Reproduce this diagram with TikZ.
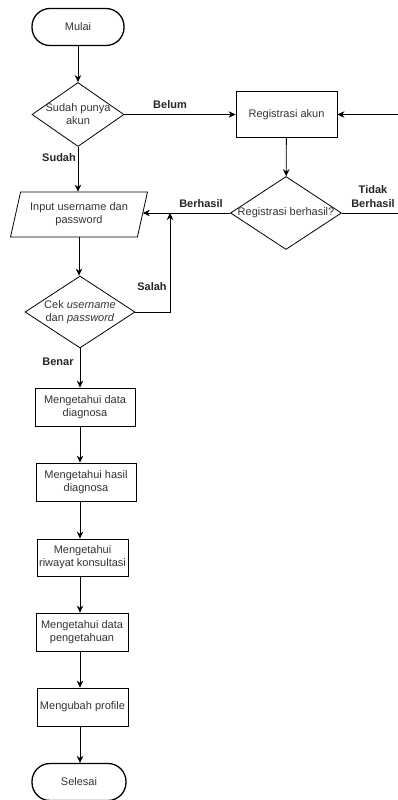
\documentclass[tikz,border=0pt]{standalone}
\usepackage{fontspec}
\setmainfont{Liberation Sans}
\usetikzlibrary{arrows.meta,shapes.geometric}

\begin{document}
\begin{tikzpicture}[x=1pt,y=-1pt,font=\fontsize{11}{13}\selectfont]
\tikzset{
  terminal/.style={draw,line width=1.3pt,rounded corners=18pt,minimum width=92pt,minimum height=37pt,inner sep=0pt,text=black!80},
  process/.style={draw,line width=0.8pt,minimum height=38pt,inner sep=0pt,align=center,text=black!80},
  decision/.style={diamond,draw,line width=0.8pt,inner sep=0pt},
  inout/.style={trapezium,trapezium left angle=70,trapezium right angle=110,trapezium stretches=true,draw,line width=0.8pt,minimum width=137pt,minimum height=45pt,inner sep=0pt,align=center,text=black!80},
  flow/.style={-{Stealth[length=7pt,width=6.5pt]},line width=0.8pt},
  flowline/.style={line width=0.8pt},
  branch/.style={font=\fontsize{11}{13}\selectfont\bfseries,text=black!85,align=center}
}
\useasboundingbox (0,0) rectangle (398,800);
\node[terminal] (n_mulai) at (78,27) {Mulai};
\node[decision,minimum width=92pt,minimum height=64pt,label={[align=center,text=black!80]center:Sudah punya\\akun}] (n_akun) at (78,114.5) {};
\node[process,minimum width=101pt,minimum height=46pt] (n_reg) at (286.5,114.5) {Registrasi akun};
\node[decision,minimum width=111pt,minimum height=73pt,label={[text=black!80]center:Registrasi berhasil?}] (n_berhasil) at (286,213) {};
\node[inout] (n_input) at (79,214.5) {Input username dan\\password};
\node[decision,minimum width=110pt,minimum height=72pt,label={[align=center,text=black!80]center:Cek \textit{username}\\dan \textit{password}}] (n_cek) at (80,312) {};
\node[process,minimum width=100pt] (n_data) at (85,407) {Mengetahui data\\diagnosa};
\node[process,minimum width=100pt] (n_hasil) at (86,482) {Mengetahui hasil\\diagnosa};
\node[process,minimum width=91pt,minimum height=37pt] (n_riwayat) at (82.5,557.5) {Mengetahui\\riwayat konsultasi};
\node[process,minimum width=92pt] (n_tahu) at (82,632) {Mengetahui data\\pengetahuan};
\node[process,minimum width=91pt] (n_profil) at (82.5,707) {Mengubah profile};
\node[terminal,minimum width=94pt] (n_selesai) at (79,782) {Selesai};
\coordinate (c_in) at (398,114.5);
\coordinate (c_out) at (398,213);
\coordinate (c_salah) at (170,213);
% labels
\node[branch] (l_belum) at (170,105) {Belum};
\node[branch] (l_sudah) at (59,158) {Sudah};
\node[branch] (l_berhasil) at (201,204) {Berhasil};
\node[branch,font=\fontsize{11}{14}\selectfont\bfseries] (l_tidak) at (373,197) {Tidak\\Berhasil};
\node[branch] (l_salah) at (152,287) {Salah};
\node[branch] (l_benar) at (58,362) {Benar};
% connectors
\draw[flow] (n_mulai) -- (n_akun);
\draw[flow] (n_akun.east) -- (n_reg.west);
\draw[flow] (n_akun.south) -- (n_akun.south |- n_input.north);
\draw[flow] (c_in) -- (n_reg.east);
\draw[flow] (n_reg) -- (n_berhasil);
\draw[flow] (n_berhasil.west) -- (n_input.east |- n_berhasil.west);
\draw[flowline] (n_berhasil.east) -- (c_out);
\draw[flow] (n_input.south) -- (n_input.south |- n_cek.north);
\draw[flow] (n_cek.east) -| (c_salah);
\draw[flow] (n_cek.south) -- (n_cek.south |- n_data.north);
\draw[flow] (n_cek.south |- n_data.south) -- (n_cek.south |- n_hasil.north);
\draw[flow] (n_cek.south |- n_hasil.south) -- (n_cek.south |- n_riwayat.north);
\draw[flow] (n_cek.south |- n_riwayat.south) -- (n_cek.south |- n_tahu.north);
\draw[flow] (n_cek.south |- n_tahu.south) -- (n_cek.south |- n_profil.north);
\draw[flow] (n_cek.south |- n_profil.south) -- (n_cek.south |- n_selesai.north);
\end{tikzpicture}
\end{document}
